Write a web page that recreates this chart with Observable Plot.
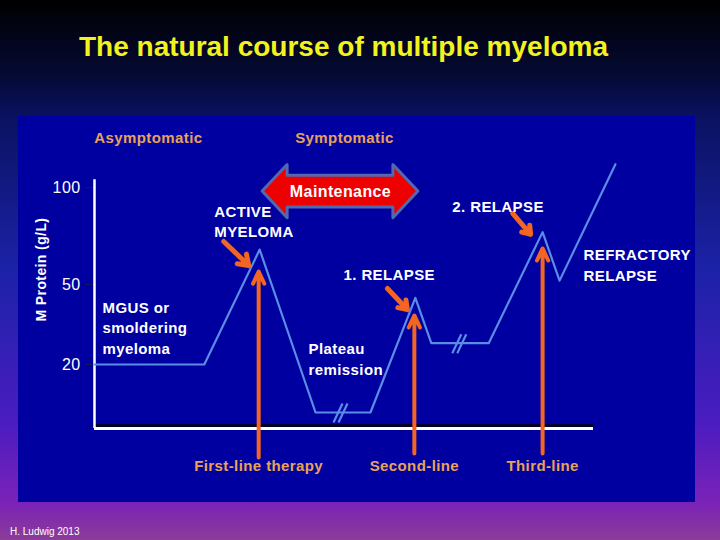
<!DOCTYPE html>
<html><head><meta charset="utf-8">
<script src="https://cdn.jsdelivr.net/npm/d3@7"></script>
<script src="https://cdn.jsdelivr.net/npm/@observablehq/plot@0.6"></script>
<style>
html,body{margin:0;padding:0;}
body{width:720px;height:540px;position:relative;overflow:hidden;
background:linear-gradient(to bottom,#000000 0%,#050a34 14%,#0a1262 22%,#1c22a8 50%,#4a1cc0 78%,#7a22b8 93%,#8c3c98 100%);
font-family:"Liberation Sans",Arial,sans-serif;}
#title{position:absolute;left:0;width:687px;top:33px;text-align:center;color:#f2f21e;font-weight:bold;font-size:28px;line-height:28px;}
#chart{position:absolute;left:18px;top:116px;}
#chart svg text{letter-spacing:0.4px;}
#credit{position:absolute;left:10px;top:527px;color:#ffffff;font-size:10px;line-height:10px;}
</style>
</head><body>
<div id="title">The natural course of multiple myeloma</div>
<div id="chart"></div>
<div id="credit">H. Ludwig 2013</div>
<script>
// ---- data (time in arbitrary units, M protein in g/L) ----
const timeX    = [0, 22, 33.1, 44.3, 55.3, 64.3, 67.5, 79, 89.8, 93.2, 104.4];
const mProtein = [20, 20, 68, 5, 5, 45, 28, 28, 77, 52, 112];
const yTicks = [20, 50, 100];

const breakX = [49.3, 73.1];
const breakY = [5, 28];

const therapyLabels = ["First-line therapy", "Second-line", "Third-line"];
const therapyX    = [32.9, 64.1, 89.8];
const therapyTip  = [56.7, 38.4, 68.6];
const therapyBase = [-9.1, -7.8, -7.8];
const therapyLabelY = -11.9;

const peakLabels = ["ACTIVE\nMYELOMA", "1. RELAPSE", "2. RELAPSE"];
const peakLabelX = [24.0, 49.9, 71.7];
const peakLabelY = [83.0, 55.7, 90.7];
const peakArrowX1 = [25.9, 58.7, 83.8];
const peakArrowY1 = [72.2, 48.5, 86.6];
const peakArrowX2 = [30.9, 62.7, 87.4];
const peakArrowY2 = [59.8, 40.6, 75.8];

const phaseLabels = ["MGUS or\nsmoldering\nmyeloma", "Plateau\nremission", "REFRACTORY\nRELAPSE"];
const phaseLabelX = [1.6, 42.9, 98.0];
const phaseLabelY = [34.2, 22.6, 60.8];

const stageLabels = ["Asymptomatic", "Symptomatic"];
const stageX = [10.8, 50.1];
const stageY = 125.3;

const maintLabel = "Maintenance";
const maintStart = 33.7, maintEnd = 64.9, maintLevel = 97.9;

const yLabel = "M Protein (g/L)";
const yLabelX = -10.6, yLabelY = 57.7;

// ---- derived tables ----
const curve = timeX.map((x, i) => ({x, y: mProtein[i]}));
const breaks = breakX.map((x, i) => ({x, y: breakY[i]}));
const therapy = therapyX.map((x, i) => ({x, tip: therapyTip[i], base: therapyBase[i], label: therapyLabels[i], ly: therapyLabelY}));
const peaks = peakLabels.map((t, i) => ({t, x: peakLabelX[i], y: peakLabelY[i], x1: peakArrowX1[i], y1: peakArrowY1[i], x2: peakArrowX2[i], y2: peakArrowY2[i]}));
const phases = phaseLabels.map((t, i) => ({t, x: phaseLabelX[i], y: phaseLabelY[i]}));
const stages = stageLabels.map((t, i) => ({t, x: stageX[i], y: stageY}));

// double-headed arrow outline, built from the start/end/level values
const head = 5.0, headHalf = 13.7, bodyHalf = 8.2;
const c = maintLevel;
const maint = [
  {x: maintStart, y1: c, y2: c},
  {x: maintStart + head, y1: c - headHalf, y2: c + headHalf},
  {x: maintStart + head, y1: c - bodyHalf, y2: c + bodyHalf},
  {x: maintEnd - head, y1: c - bodyHalf, y2: c + bodyHalf},
  {x: maintEnd - head, y1: c - headHalf, y2: c + headHalf},
  {x: maintEnd, y1: c, y2: c}
];

const breakSymbol = {
  draw(ctx) {
    ctx.moveTo(-7, 10); ctx.lineTo(2, -9);
    ctx.moveTo(-2, 10); ctx.lineTo(7, -9);
  }
};

const lineColor = "#5a8de6";
const orange = "#f26522";
const tan = "#e8a25a";
const font = "Liberation Sans, Arial, sans-serif";

const plot = Plot.plot({
  width: 677, height: 386,
  marginLeft: 76, marginRight: 102, marginTop: 63, marginBottom: 74,
  style: {background: "#0000a0", fontFamily: font, overflow: "visible"},
  x: {type: "linear", domain: [0, 100], range: [76, 575], axis: null},
  y: {type: "linear", domain: [0, 20, 50, 100], range: [312, 248, 168, 71], axis: null},
  marks: [
    Plot.axisY(yTicks, {anchor: "left", tickSize: 9, tickPadding: 5, stroke: "#16165a", fill: "white", fontSize: 16, label: null, tickFormat: d => String(d)}),
    Plot.ruleY([0], {x1: 0, x2: 100, stroke: "#00002a", strokeWidth: 3, dy: -3}),
    Plot.ruleY([0], {x1: 0, x2: 100, stroke: "white", strokeWidth: 3}),
    Plot.ruleX([0], {y1: 0, y2: 104, stroke: "white", strokeWidth: 2.5}),
    Plot.line(curve, {x: "x", y: "y", stroke: lineColor, strokeWidth: 2.2}),
    Plot.dot(breaks, {x: "x", y: "y", symbol: breakSymbol, stroke: lineColor, strokeWidth: 2.2, fill: "none"}),
    Plot.arrow(therapy, {x1: "x", y1: "base", x2: "x", y2: "tip", stroke: orange, strokeWidth: 4, headLength: 5, headAngle: 50}),
    Plot.arrow(peaks, {x1: "x1", y1: "y1", x2: "x2", y2: "y2", stroke: orange, strokeWidth: 5, headLength: 4, headAngle: 70}),
    Plot.areaY(maint, {x: "x", y1: "y1", y2: "y2", fill: "#ee0000", stroke: "#5468b0", strokeWidth: 3, curve: "linear"}),
    Plot.text([{t: maintLabel, x: (maintStart + maintEnd) / 2, y: maintLevel}], {x: "x", y: "y", text: "t", fill: "white", fontSize: 16, fontWeight: "bold"}),
    Plot.text(peaks, {x: "x", y: "y", text: "t", fill: "white", fontSize: 15, fontWeight: "bold", textAnchor: "start", lineHeight: 1.35}),
    Plot.text(phases, {x: "x", y: "y", text: "t", fill: "white", fontSize: 15, fontWeight: "bold", textAnchor: "start", lineHeight: 1.38}),
    Plot.text(stages, {x: "x", y: "y", text: "t", fill: tan, fontSize: 15, fontWeight: "bold"}),
    Plot.text(therapy, {x: "x", y: "ly", text: "label", fill: tan, fontSize: 15, fontWeight: "bold"}),
    Plot.text([{t: yLabel, x: yLabelX, y: yLabelY}], {x: "x", y: "y", text: "t", rotate: -90, fill: "white", fontSize: 14, fontWeight: "bold"})
  ]
});
document.getElementById("chart").appendChild(plot);
</script>
</body></html>
